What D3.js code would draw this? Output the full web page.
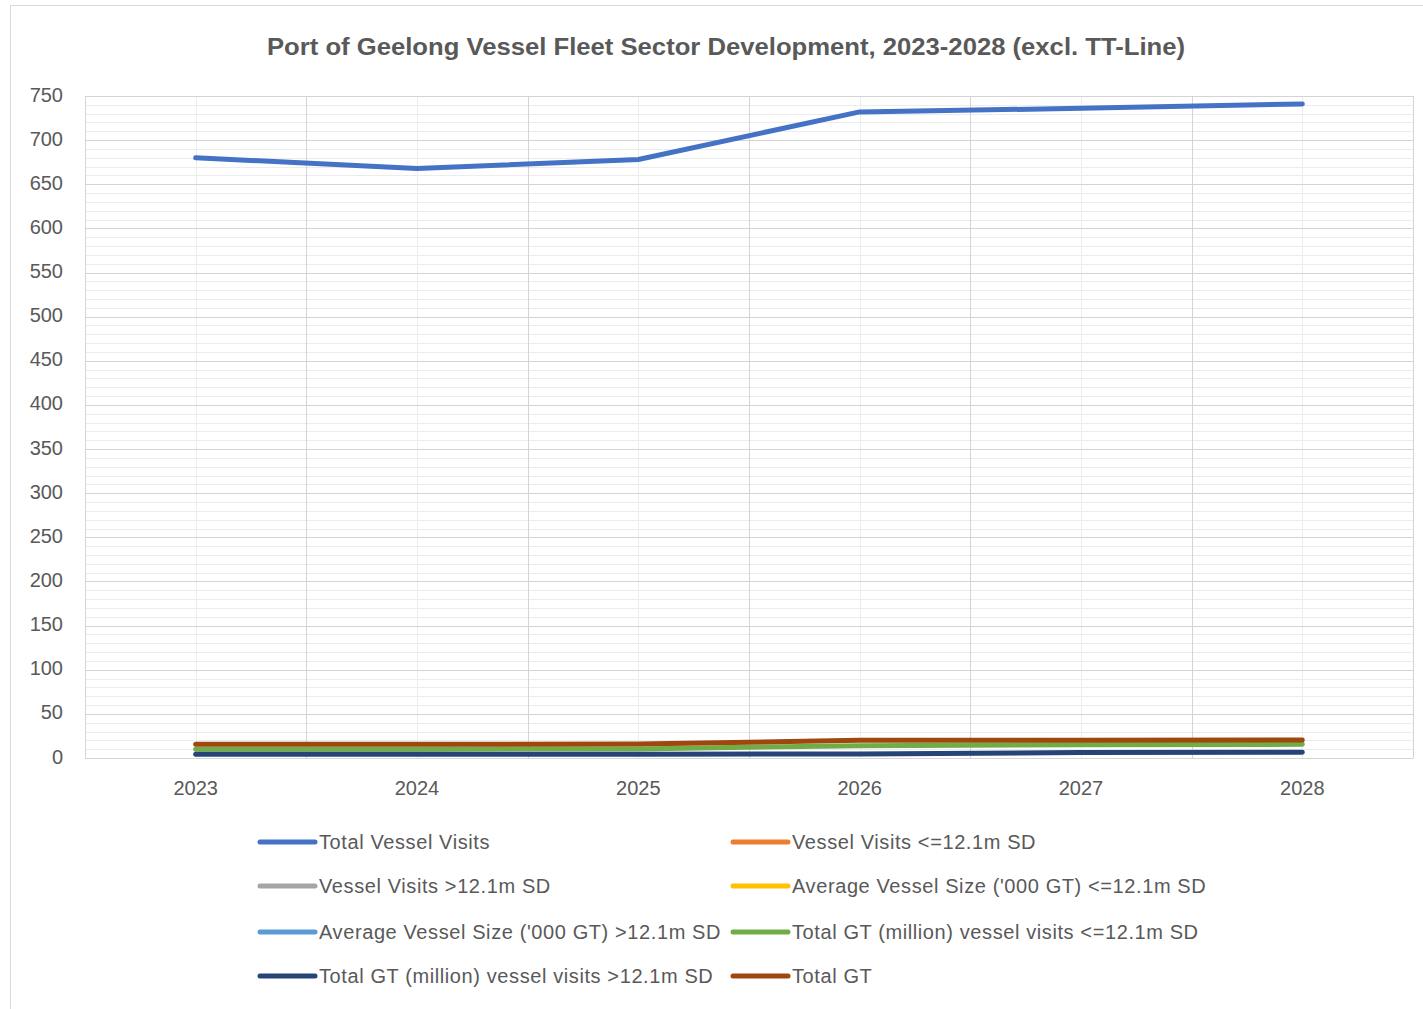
<!DOCTYPE html>
<html>
  <head>
    <meta charset="UTF-8"/>
    <script src="https://d3js.org/d3.v7.min.js"></script>
    <style>
      body{
        margin: 0;
        background: #ffffff;
      }
      svg text{
        font-family: "Liberation Sans", "DejaVu Sans", sans-serif;
        fill: #595959;
      }
    </style>
  </head>
  <body>
    <script>
      // chart values
      const years = ['2023', '2024', '2025', '2026', '2027', '2028'];
      const yTicks = [0, 50, 100, 150, 200, 250, 300, 350, 400, 450, 500, 550, 600, 650, 700, 750];

      const totalVisits = [680, 668, 678, 732, 736, 741];
      const visitsSmall = [null, null, null, null, null, null];
      const visitsLarge = [null, null, null, null, null, null];
      const avgSizeSmall = [null, null, null, null, null, null];
      const avgSizeLarge = [null, null, null, null, null, null];
      const gtSmall = [10, 10, 10.3, 14, 15, 15.5];
      const gtLarge = [4.3, 4.3, 4.3, 4.5, 6.3, 6.5];
      const totalGT = [15.5, 15.5, 15.8, 20, 20, 20.5];

      const seriesNames = [
        'Total Vessel Visits',
        'Vessel Visits <=12.1m SD',
        'Vessel Visits >12.1m SD',
        "Average Vessel Size ('000 GT) <=12.1m SD",
        "Average Vessel Size ('000 GT) >12.1m SD",
        'Total GT (million) vessel visits <=12.1m SD',
        'Total GT (million) vessel visits >12.1m SD',
        'Total GT'
      ];
      const seriesValues = [totalVisits, visitsSmall, visitsLarge, avgSizeSmall, avgSizeLarge, gtSmall, gtLarge, totalGT];
      const seriesColors = ['#4472C4', '#ED7D31', '#A5A5A5', '#FFC000', '#5B9BD5', '#70AD47', '#264478', '#9E480E'];

      const width = 1423;
      const height = 1009;
      const plot = {left: 85, right: 1413, top: 96, bottom: 758};

      const svg = d3.select('body')
                    .append('svg')
                    .attr('width', width)
                    .attr('height', height);

      // chart frame
      svg.append('rect')
         .attr('x', 10.5)
         .attr('y', 5.5)
         .attr('width', width)
         .attr('height', height)
         .attr('fill', 'none')
         .attr('stroke', '#d9d9d9');

      svg.append('text')
         .attr('x', 726)
         .attr('y', 55)
         .attr('text-anchor', 'middle')
         .style('font-size', '23px')
         .style('font-weight', 'bold')
         .attr('textLength', 918)
         .attr('lengthAdjust', 'spacingAndGlyphs')
         .text('Port of Geelong Vessel Fleet Sector Development, 2023-2028 (excl. TT-Line)');

      const xScale = d3.scaleBand()
                       .domain(years)
                       .range([plot.left, plot.right]);

      const yScale = d3.scaleLinear()
                       .domain([0, 750])
                       .range([plot.bottom, plot.top]);

      const grid = svg.append('g');

      // minor horizontal lines every 10
      grid.selectAll('.minor-y')
          .data(d3.range(10, 750, 10).filter(v => v % 50 !== 0))
          .enter()
          .append('line')
          .attr('x1', plot.left)
          .attr('x2', plot.right)
          .attr('y1', d => Math.round(yScale(d)) + 0.5)
          .attr('y2', d => Math.round(yScale(d)) + 0.5)
          .attr('stroke', '#ececec');

      // minor vertical lines on the categories
      grid.selectAll('.minor-x')
          .data(years)
          .enter()
          .append('line')
          .attr('x1', d => Math.round(xScale(d) + xScale.bandwidth() / 2) + 0.5)
          .attr('x2', d => Math.round(xScale(d) + xScale.bandwidth() / 2) + 0.5)
          .attr('y1', plot.top)
          .attr('y2', plot.bottom)
          .attr('stroke', '#ececec');

      // major horizontal lines
      grid.selectAll('.major-y')
          .data(yTicks)
          .enter()
          .append('line')
          .attr('x1', plot.left)
          .attr('x2', plot.right)
          .attr('y1', d => Math.round(yScale(d)) + 0.5)
          .attr('y2', d => Math.round(yScale(d)) + 0.5)
          .attr('stroke', '#d4d4d4');

      // major vertical lines between categories
      grid.selectAll('.major-x')
          .data(years.concat(['end']))
          .enter()
          .append('line')
          .attr('x1', (d, i) => Math.round(plot.left + i * xScale.bandwidth()) + 0.5)
          .attr('x2', (d, i) => Math.round(plot.left + i * xScale.bandwidth()) + 0.5)
          .attr('y1', plot.top)
          .attr('y2', plot.bottom)
          .attr('stroke', '#d4d4d4');

      const yAxis = d3.axisLeft(yScale)
                      .tickValues(yTicks)
                      .tickSize(0)
                      .tickPadding(22);

      const yAxisG = svg.append('g')
                        .attr('transform', 'translate(' + plot.left + ',0)')
                        .call(yAxis);
      yAxisG.select('.domain').remove();
      yAxisG.selectAll('text')
            .style('font-size', '20px')
            .attr('dy', '0.25em');

      const xAxis = d3.axisBottom(xScale)
                      .tickSize(0)
                      .tickPadding(23);

      const xAxisG = svg.append('g')
                        .attr('transform', 'translate(0,' + plot.bottom + ')')
                        .call(xAxis);
      xAxisG.select('.domain').attr('stroke', '#d4d4d4');
      xAxisG.selectAll('text')
            .style('font-size', '20px');

      const line = d3.line()
                     .defined(d => d !== null)
                     .x((d, i) => xScale(years[i]) + xScale.bandwidth() / 2)
                     .y(d => yScale(d));

      svg.append('g')
         .selectAll('path')
         .data(seriesValues)
         .enter()
         .append('path')
         .attr('d', d => line(d))
         .attr('fill', 'none')
         .attr('stroke', (d, i) => seriesColors[i])
         .attr('stroke-width', 5)
         .attr('stroke-linecap', 'round')
         .attr('stroke-linejoin', 'round');

      // legend, two columns
      const legendCols = [260, 733];
      const legendRows = [842, 886, 932, 976];

      const legend = svg.append('g')
                        .selectAll('g')
                        .data(seriesNames)
                        .enter()
                        .append('g')
                        .attr('transform', (d, i) => 'translate(' + legendCols[i % 2] + ',' + legendRows[Math.floor(i / 2)] + ')');

      legend.append('line')
            .attr('x1', 0)
            .attr('x2', 55)
            .attr('stroke', (d, i) => seriesColors[i])
            .attr('stroke-width', 5)
            .attr('stroke-linecap', 'round');

      legend.append('text')
            .attr('x', 59)
            .attr('dy', '0.35em')
            .style('font-size', '20px')
            .style('letter-spacing', '0.6px')
            .text(d => d);
    </script>
  </body>
</html>
